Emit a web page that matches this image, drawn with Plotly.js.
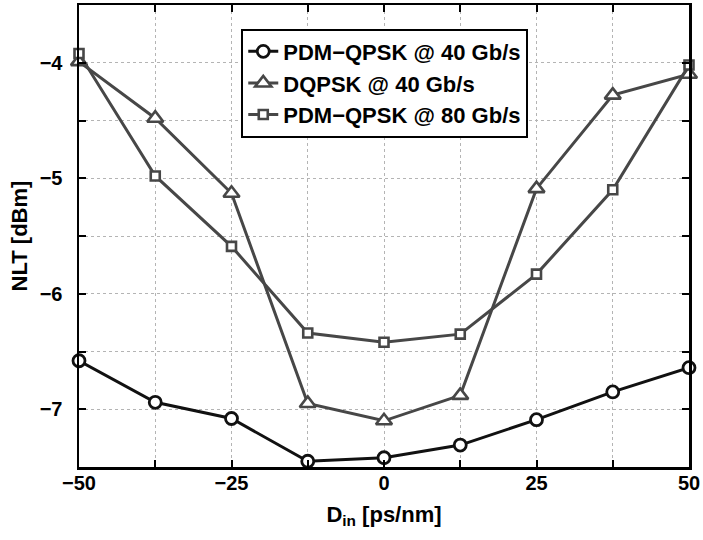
<!DOCTYPE html>
<html>
<head>
<meta charset="utf-8">
<script src="https://cdn.plot.ly/plotly-3.0.1.min.js"></script>
<style>html,body{margin:0;padding:0;background:#fff;}#chart{width:703px;height:540px;}</style>
</head>
<body>
<div id="chart"></div>
<script>
const dispersion = [-50, -37.5, -25, -12.5, 0, 12.5, 25, 37.5, 50];
const pdmQpsk40 = [-6.58, -6.94, -7.08, -7.45, -7.42, -7.31, -7.09, -6.85, -6.64];
const dqpsk40 = [-3.99, -4.48, -5.13, -6.95, -7.10, -6.88, -5.09, -4.28, -4.10];
const pdmQpsk80 = [-3.92, -4.98, -5.59, -6.34, -6.42, -6.35, -5.83, -5.10, -4.02];
const seriesNames = ["PDM\u2212QPSK @ 40 Gb/s", "DQPSK @ 40 Gb/s", "PDM\u2212QPSK @ 80 Gb/s"];
const xTickVals = [-50, -25, 0, 25, 50];
const xTickText = ["\u221250", "\u221225", "0", "25", "50"];
const yTickVals = [-7, -6, -5, -4];
const yTickText = ["\u22127", "\u22126", "\u22125", "\u22124"];

const font = "Liberation Sans, Arial, Helvetica, sans-serif";
const traces = [
  {x: dispersion, y: pdmQpsk40, name: seriesNames[0], type: "scatter", mode: "lines+markers", cliponaxis: false,
   line: {color: "#111111", width: 3},
   marker: {symbol: "circle", size: 12, color: "#ffffff", line: {color: "#111111", width: 2.8}}},
  {x: dispersion, y: dqpsk40, name: seriesNames[1], type: "scatter", mode: "lines+markers", cliponaxis: false,
   line: {color: "#474747", width: 3},
   marker: {symbol: "triangle-up", size: 14, color: "#ffffff", line: {color: "#474747", width: 2.6}}},
  {x: dispersion, y: pdmQpsk80, name: seriesNames[2], type: "scatter", mode: "lines+markers", cliponaxis: false,
   line: {color: "#474747", width: 3},
   marker: {symbol: "square", size: 9, color: "#ffffff", line: {color: "#474747", width: 2.6}}}
];
const gridStyle = {showgrid: true, gridcolor: "#b4b4b4", gridwidth: 1, griddash: "dot"};
const axisCommon = Object.assign({
  showline: true, linecolor: "#000", linewidth: 2.5, mirror: "ticks",
  ticks: "inside", ticklen: 7, tickwidth: 2, tickcolor: "#000",
  zeroline: false, tickfont: {family: font, size: 20, color: "#000", weight: "bold"}
}, gridStyle);
const layout = {
  width: 703, height: 540,
  margin: {l: 79, r: 14, t: 5, b: 73},
  paper_bgcolor: "#fff", plot_bgcolor: "#fff",
  showlegend: true,
  xaxis: Object.assign({}, axisCommon, {
    range: [-50, 50], tickmode: "array", tickvals: xTickVals, ticktext: xTickText,
    minor: Object.assign({dtick: 12.5, tick0: 0, ticks: "inside", ticklen: 7, tickwidth: 2, tickcolor: "#000"}, gridStyle),
    ticklabelstandoff: -4,
    title: {text: "<b>D<sub>in</sub> [ps/nm]</b>", font: {family: font, size: 22, color: "#000"}, standoff: 14}
  }),
  yaxis: Object.assign({}, axisCommon, {
    range: [-7.5, -3.5], tickmode: "array", tickvals: yTickVals, ticktext: yTickText,
    minor: Object.assign({dtick: 0.5, tick0: 0, ticks: "inside", ticklen: 7, tickwidth: 2, tickcolor: "#000"}, gridStyle),
    ticklabelstandoff: 10,
    title: {text: "<b>NLT [dBm]</b>", font: {family: font, size: 22, color: "#000"}, standoff: 6}
  }),
  legend: {
    x: 0.266, y: 0.949, xanchor: "left", yanchor: "top",
    bgcolor: "#fff", bordercolor: "#000", borderwidth: 2,
    font: {family: font, size: 22, color: "#000", weight: "bold"},
    itemwidth: 30
  }
};
Plotly.newPlot("chart", traces, layout, {displayModeBar: false, staticPlot: true});
</script>
</body>
</html>
